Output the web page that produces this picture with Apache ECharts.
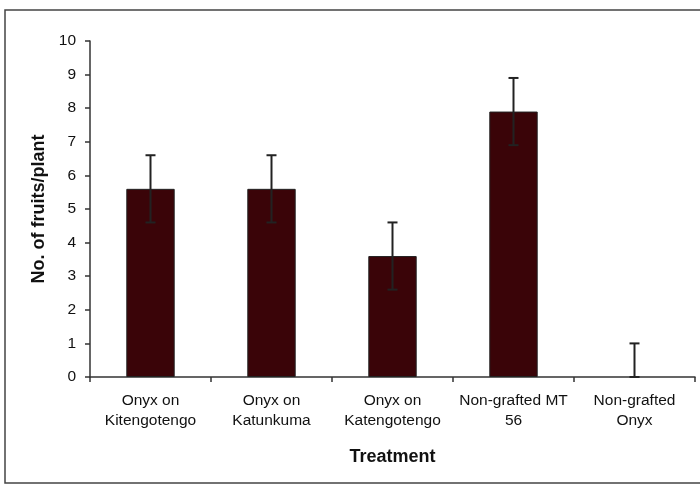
<!DOCTYPE html>
<html><head><meta charset="utf-8">
<script src="https://cdn.jsdelivr.net/npm/echarts@6/dist/echarts.min.js"></script>
<style>html,body{margin:0;padding:0;background:#fff}#c{width:700px;height:486px}</style>
</head><body><div id="c"></div>
<script>
const categories = ['Onyx on\nKitengotengo', 'Onyx on\nKatunkuma', 'Onyx on\nKatengotengo', 'Non-grafted MT\n56', 'Non-grafted\nOnyx'];
const values = [5.6, 5.6, 3.6, 7.9, 0];
const errLow = [4.6, 4.6, 2.6, 6.9, 0];
const errHigh = [6.6, 6.6, 4.6, 8.9, 1.0];
const yTicks = [0,1,2,3,4,5,6,7,8,9,10];

const chart = echarts.init(document.getElementById('c'));
const font = 'Liberation Sans, Arial, sans-serif';
chart.setOption({
  animation: false,
  backgroundColor: '#fff',
  graphic: [{type:'rect', shape:{x:5, y:10, width:700, height:473}, style:{fill:'none', stroke:'#444', lineWidth:1.5}, silent:true}],
  grid: {left: 90, right: 5, top: 41, bottom: 109},
  xAxis: {
    type: 'category', data: categories,
    name: 'Treatment', nameLocation: 'middle', nameGap: 71,
    nameTextStyle: {fontFamily: font, fontSize: 18, fontWeight: 'bold', color: '#111'},
    axisLine: {lineStyle: {color: '#333', width: 1.5}},
    axisTick: {show: true, length: 5, interval: 0, lineStyle: {color: '#333', width: 1.5}},
    axisLabel: {interval: 0, margin: 14, fontFamily: font, fontSize: 15.5, color: '#111', lineHeight: 20}
  },
  yAxis: {
    type: 'value', min: 0, max: 10, interval: 1,
    name: 'No. of fruits/plant', nameLocation: 'middle', nameGap: 42,
    nameTextStyle: {fontFamily: font, fontSize: 18, fontWeight: 'bold', color: '#111'},
    splitLine: {show: false},
    axisLine: {show: true, lineStyle: {color: '#333', width: 1.5}},
    axisTick: {show: true, length: 5, lineStyle: {color: '#333', width: 1.5}},
    axisLabel: {margin: 14, fontFamily: font, fontSize: 15.5, color: '#111',
      formatter: v => yTicks.includes(v) ? String(v) : ''}
  },
  series: [{
    type: 'bar', barWidth: '40%',
    data: values.map(v => v === 0 ? {value: v, itemStyle: {borderWidth: 0}} : v),
    itemStyle: {color: '#3a0408', borderColor: '#222', borderWidth: 1}
  }, {
    type: 'custom',
    data: categories.map((c, i) => [i, errLow[i], errHigh[i]]),
    renderItem: function (params, api) {
      const x = api.value(0);
      const lo = api.coord([x, api.value(1)]);
      const hi = api.coord([x, api.value(2)]);
      const cap = 5;
      const st = {stroke: '#222', lineWidth: 2};
      return {type: 'group', children: [
        {type: 'line', shape: {x1: lo[0], y1: lo[1], x2: hi[0], y2: hi[1]}, style: st},
        {type: 'line', shape: {x1: hi[0]-cap, y1: hi[1], x2: hi[0]+cap, y2: hi[1]}, style: st},
        {type: 'line', shape: {x1: lo[0]-cap, y1: lo[1], x2: lo[0]+cap, y2: lo[1]}, style: st}
      ]};
    },
    z: 10
  }]
});
</script></body></html>
